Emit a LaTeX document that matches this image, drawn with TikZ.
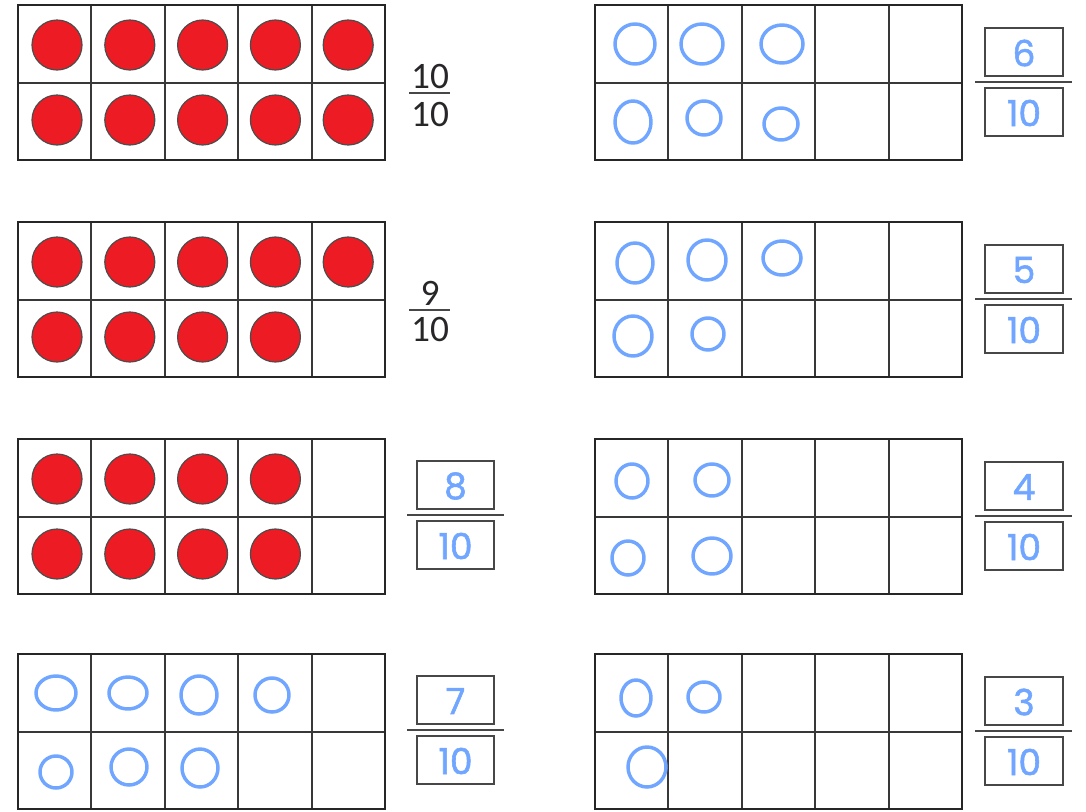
\documentclass[tikz,border=0pt]{standalone}
\usepackage{fontspec}
\newfontfamily\printfont{Carlito}
\newfontfamily\handfont{Poppins}[FakeBold=1.5]
\definecolor{dotred}{RGB}{237,28,36}
\definecolor{penblue}{RGB}{112,166,255}
\definecolor{inkgray}{RGB}{40,38,40}
\tikzset{
  frameouter/.style={line width=2.2pt, draw=black!85},
  frameinner/.style={line width=1.4pt, draw=black!78},
  reddot/.style={fill=dotred, draw=black!70, line width=0.9pt},
  penring/.style={draw=penblue, line width=2.6pt},
  fracbox/.style={draw=black!72, line width=1.4pt},
  fracbar/.style={draw=black!72, line width=1.6pt},
  hand/.style={text=penblue, font=\handfont\fontsize{27}{27}\selectfont, inner sep=0pt},
  printed/.style={text=inkgray, font=\printfont\fontsize{28}{28}\selectfont, inner sep=0pt}
}
\begin{document}
\begin{tikzpicture}[x=0.75pt,y=-0.75pt]
\useasboundingbox (0,0) rectangle (1086,811);
\fill[white] (0,0) rectangle (1086,811);
% ten frames
\foreach \fx/\fy in {18/5,18/222,18/439,18/654,595/5,595/222,595/439,595/654}{
  \foreach \i in {1,...,4} \draw[frameinner] ({\fx+\i*73.4},\fy) -- ++(0,155);
  \draw[frameinner] (\fx,\fy+78) -- ++(367,0);
  \draw[frameouter] (\fx,\fy) rectangle ++(367,155);
}
% red counters
\foreach \fy/\top/\bot in {5/5/5, 222/5/4, 439/4/4}{
  \foreach \c in {1,...,\top} \fill[reddot] ({57+(\c-1)*72.8},\fy+40) circle (25);
  \foreach \c in {1,...,\bot} \fill[reddot] ({57+(\c-1)*72.8},\fy+115) circle (25);
}
% blue hand-drawn rings
\foreach \x/\y/\rx/\ry in {
  56/693/20/17, 128/693/19/16, 199/695/18/19, 272/695/17/17,
  56/772/16/16, 129/767/18/18, 200/768/18/19,
  635/44/20/20, 702/44/21/20, 782/44/21/19, 633/122/18/21, 704/118/17/17, 781/124/17/16,
  635/263/18/20, 707/260/19/20, 782/258/19/17, 633/336/19/20, 708/334/16/16,
  632/481/16/17, 712/480/17/16, 628/558/16/17, 712/556/19/18,
  636/698/15/18, 704/697/16/15, 647/767/19/20}{
  \draw[penring] (\x,\y) ellipse [x radius=\rx, y radius=\ry];
}
% printed fractions
\node[printed] (n1) at (430,77) {10};
\draw[fracbar] (409,93) -- (450,93);
\node[printed] (d1) at (430,115) {10};
\node[printed] (n2) at (430,293) {9};
\draw[fracbar] (409,310) -- (450,310);
\node[printed] (d2) at (430,330) {10};
% boxed fractions, left column
\foreach \fy/\num/\k in {439/8/a, 654/7/b}{
  \draw[fracbox] (417,\fy+22) rectangle (494,\fy+70);
  \draw[fracbar] (407,\fy+76) -- (504,\fy+76);
  \draw[fracbox] (417,\fy+82) rectangle (494,\fy+130);
  \node[hand] (hn\k) at (455.5,\fy+47) {\num};
  \node[hand] (hd\k) at (455.5,\fy+107) {10};
}
% boxed fractions, right column
\foreach \fy/\num/\k in {5/6/c, 222/5/d, 439/4/e, 654/3/f}{
  \draw[fracbox] (985,\fy+23) rectangle (1063,\fy+71);
  \draw[fracbar] (975,\fy+77) -- (1072,\fy+77);
  \draw[fracbox] (985,\fy+83) rectangle (1063,\fy+131);
  \node[hand] (hn\k) at (1024,\fy+48) {\num};
  \node[hand] (hd\k) at (1024,\fy+108) {10};
}
\end{tikzpicture}
\end{document}
